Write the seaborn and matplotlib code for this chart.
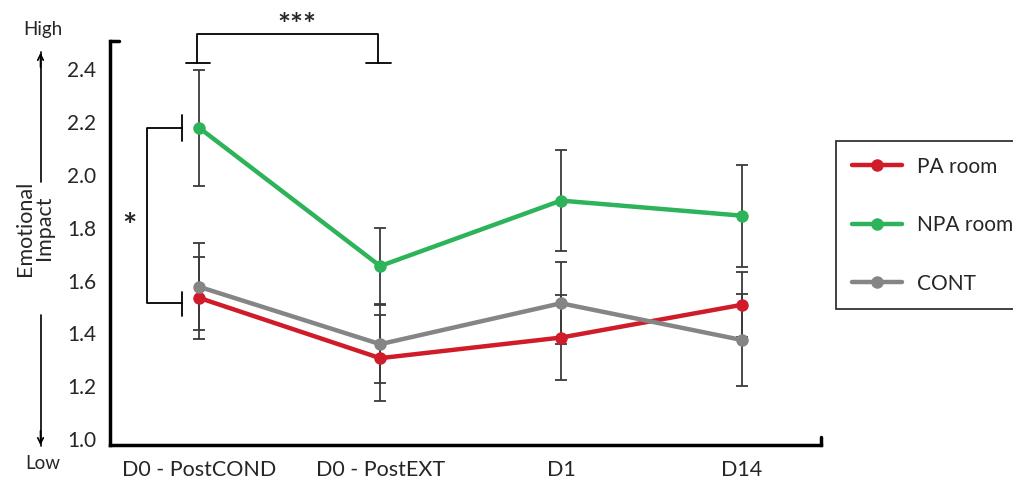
import numpy as np
import pandas as pd
import seaborn as sns
import matplotlib.pyplot as plt

# Data
timepoints = ['D0 - PostCOND', 'D0 - PostEXT', 'D1', 'D14']
groups = ['PA room', 'NPA room', 'CONT']
pa_mean = [1.534, 1.306, 1.384, 1.508]
npa_mean = [2.178, 1.655, 1.903, 1.846]
cont_mean = [1.576, 1.359, 1.514, 1.375]
pa_err = [0.155, 0.163, 0.160, 0.123]
npa_err = [0.220, 0.143, 0.190, 0.193]
cont_err = [0.165, 0.148, 0.156, 0.175]
colors = {'PA room': '#d01c2a', 'NPA room': '#2db35a', 'CONT': '#858585'}

means = {'PA room': pa_mean, 'NPA room': npa_mean, 'CONT': cont_mean}
errs = {'PA room': pa_err, 'NPA room': npa_err, 'CONT': cont_err}

rows = []
for g in groups:
    for i, t in enumerate(timepoints):
        rows.append({'x': i, 'time': t, 'group': g, 'mean': means[g][i], 'err': errs[g][i]})
df = pd.DataFrame(rows)

sns.set_style('white')
plt.rcParams['font.family'] = ['Lato', 'DejaVu Sans']

fig = plt.figure(figsize=(10.13, 4.83), dpi=100)
ax = fig.add_axes([0.1086, 0.0787, 0.702, 0.836])

# error bars behind the lines
for g in groups:
    d = df[df['group'] == g]
    ax.errorbar(d['x'], d['mean'], yerr=d['err'], fmt='none', ecolor='#3a3a3a',
                elinewidth=1.3, capsize=4, capthick=1.3, zorder=2)

sns.lineplot(data=df, x='x', y='mean', hue='group', hue_order=groups, palette=colors,
             marker='o', markersize=9, markeredgewidth=0, linewidth=3.2, ax=ax, zorder=3)

ax.set_xlim(-0.495, 3.44)
ax.set_ylim(0.977, 2.507)
ax.set_xticks(range(len(timepoints)))
ax.set_xticklabels(timepoints, fontsize=15.5)
ax.set_yticks(np.arange(1.0, 2.41, 0.2))
ax.set_yticklabels([f'{v:.1f}' for v in np.arange(1.0, 2.41, 0.2)], fontsize=15)
ax.tick_params(axis='y', length=0, pad=10)
ax.tick_params(axis='x', length=0, pad=11)
ax.set_xlabel('')
ax.set_ylabel('')
for s in ['top', 'right']:
    ax.spines[s].set_visible(False)
for s in ['left', 'bottom']:
    ax.spines[s].set_linewidth(2.5)
    ax.spines[s].set_color('black')

# small end ticks on the spines
ax.plot([0, 0.012], [1, 1], transform=ax.transAxes, color='black', lw=2.5, clip_on=False)
ax.plot([1, 1], [0, 0.02], transform=ax.transAxes, color='black', lw=2.5, clip_on=False)

# legend (frame runs off the right edge like the original)
leg = ax.legend(loc='upper left', bbox_to_anchor=(836 / 1013, 1 - 141 / 483), bbox_transform=fig.transFigure,
                fontsize=15, frameon=True, fancybox=False, labelspacing=1.85,
                handlelength=2.4, handletextpad=0.75, borderpad=0.75, borderaxespad=0)
leg.get_frame().set_edgecolor('black')
leg.get_frame().set_linewidth(1.3)

# significance brackets
bk = dict(color='black', lw=1.3, clip_on=False)
ax.plot([-0.014, -0.014, 0.988, 0.988], [2.424, 2.534, 2.534, 2.424], **bk)
ax.plot([-0.075, 0.058], [2.424, 2.424], **bk)
ax.plot([0.92, 1.06], [2.424, 2.424], **bk)
ax.text(0.54, 2.565, '***', ha='center', va='center', fontsize=22, fontweight='bold')

ax.plot([-0.097, -0.29, -0.29, -0.097], [2.178, 2.178, 1.515, 1.515], **bk)
ax.plot([-0.097, -0.097], [2.13, 2.227], **bk)
ax.plot([-0.097, -0.097], [1.466, 1.557], **bk)
ax.text(-0.385, 1.80, '*', ha='center', va='center', fontsize=24, fontweight='bold')

# axis label with high/low arrows
fig.text(0.034, 0.528, 'Emotional\nImpact', rotation=90, ha='center', va='center',
         fontsize=15.5, linespacing=0.95)
fig.text(0.042, 0.938, 'High', ha='center', va='center', fontsize=13.5)
fig.text(0.042, 0.040, 'Low', ha='center', va='center', fontsize=13.5)
fig.add_artist(plt.Line2D([0.040, 0.040], [1 - 182 / 483, 1 - 52 / 483], color='black', lw=1.2))
fig.add_artist(plt.Line2D([0.040, 0.040], [1 - 315 / 483, 1 - 446 / 483], color='black', lw=1.2))
ax.annotate('', xy=(0.040, 1 - 50 / 483), xytext=(0.040, 1 - 70 / 483), xycoords='figure fraction',
            arrowprops=dict(arrowstyle='->', color='black', lw=1.2))
ax.annotate('', xy=(0.040, 1 - 448 / 483), xytext=(0.040, 1 - 428 / 483), xycoords='figure fraction',
            arrowprops=dict(arrowstyle='->', color='black', lw=1.2))

fig.savefig('out.png', dpi=100)
